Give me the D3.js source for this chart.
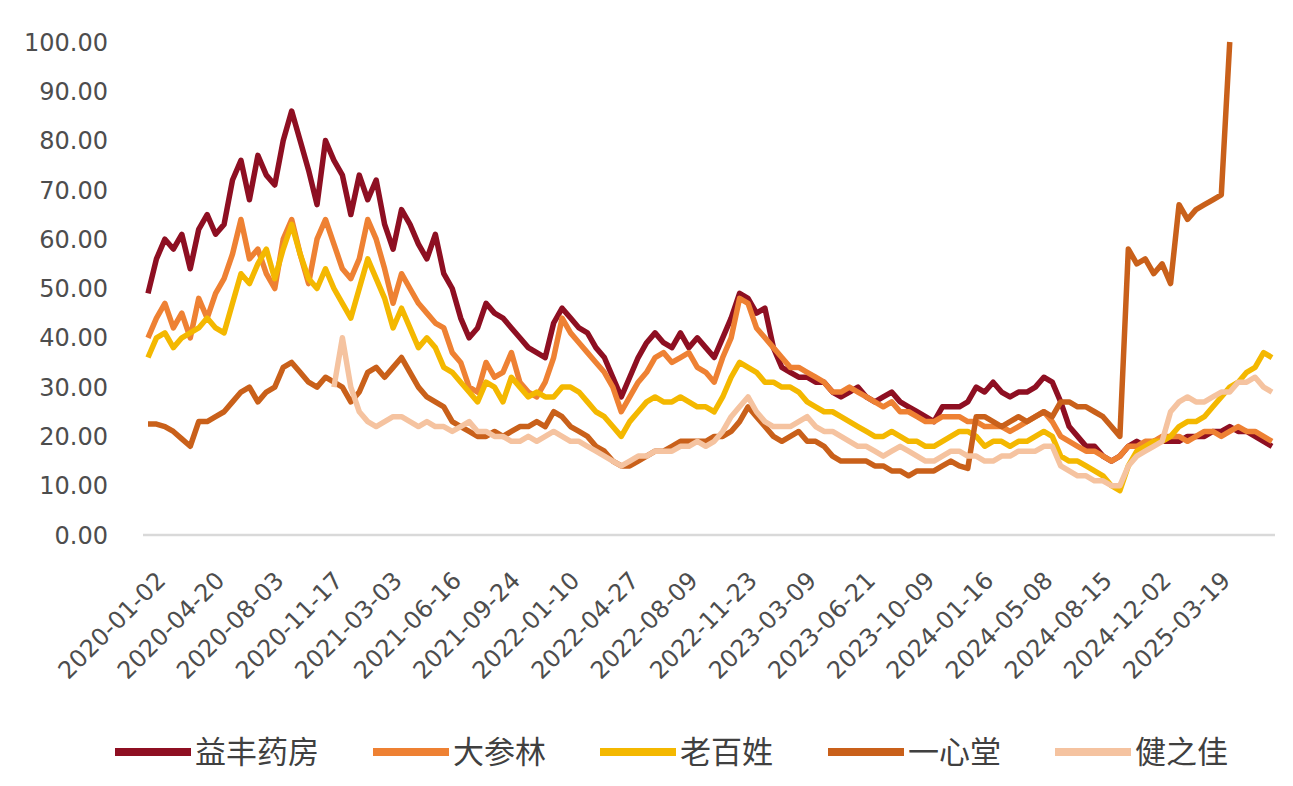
<!DOCTYPE html>
<html>
<head>
<meta charset="utf-8">
<script src="https://cdn.jsdelivr.net/npm/d3@7"></script>
<style>
  body { margin: 0; background: #fff; }
  svg { display: block; }
</style>
</head>
<body>
<svg id="chart" width="1293" height="786"></svg>
<script>
// tick labels, one every 70 trading days
var dateLabels = ["2020-01-02", "2020-04-20", "2020-08-03", "2020-11-17", "2021-03-03", "2021-06-16",
    "2021-09-24", "2022-01-10", "2022-04-27", "2022-08-09", "2022-11-23", "2023-03-09", "2023-06-21",
    "2023-10-09", "2024-01-16", "2024-05-08", "2024-08-15", "2024-12-02", "2025-03-19"];
var labelStep = 70;   // trading days between labels
var sampleStep = 10;  // trading days between samples below

var names = ["益丰药房", "大参林", "老百姓", "一心堂", "健之佳"];
var colors = ["#8E0F22", "#EE8133", "#F4B800", "#C9601A", "#F5C3A0"];

var yifeng = [49,56,60,58,61,54,62,65,61,63,
    72,76,68,77,73,71,80,86,80,74,
    67,80,76,73,65,73,68,72,63,58,
    66,63,59,56,61,53,50,44,40,42,
    47,45,44,42,40,38,37,36,43,46,
    44,42,41,38,36,32,28,32,36,39,
    41,39,38,41,38,40,38,36,40,44,
    49,48,45,46,38,34,33,32,32,31,
    31,29,28,29,30,28,27,28,29,27,
    26,25,24,23,26,26,26,27,30,29,
    31,29,28,29,29,30,32,31,27,22,
    20,18,18,16,15,16,18,19,18,19,
    19,19,19,20,20,20,21,21,22,21,
    21,20,19,18];

var dacanlin = [40,44,47,42,45,40,48,44,49,52,
    57,64,56,58,53,50,60,64,57,51,
    60,64,59,54,52,56,64,60,54,47,
    53,50,47,45,43,42,37,35,30,29,
    35,32,33,37,31,29,28,31,36,44,
    41,39,37,35,33,30,25,28,31,33,
    36,37,35,36,37,34,33,31,36,40,
    48,47,42,40,38,36,34,34,33,32,
    31,29,29,30,29,28,27,26,27,25,
    25,24,23,23,24,24,24,23,23,22,
    22,22,21,22,23,24,25,23,20,19,
    18,17,17,16,15,16,18,18,19,19,
    20,20,20,19,20,21,21,20,21,22,
    21,21,20,19];

var laobaixing = [36,40,41,38,40,41,42,44,42,41,
    47,53,51,55,58,52,58,63,57,52,
    50,54,50,47,44,50,56,52,48,42,
    46,42,38,40,38,34,33,31,29,27,
    31,30,27,32,30,28,29,28,28,30,
    30,29,27,25,24,22,20,23,25,27,
    28,27,27,28,27,26,26,25,28,32,
    35,34,33,31,31,30,30,29,27,26,
    25,25,24,23,22,21,20,20,21,20,
    19,19,18,18,19,20,21,21,20,18,
    19,19,18,19,19,20,21,20,16,15,
    15,14,13,12,10,9,14,17,18,19,
    19,20,22,23,23,24,26,28,30,31,
    33,34,37,36];

var yixintang = [22.5,22.5,22,21,19.5,18,23,23,24,25,
    27,29,30,27,29,30,34,35,33,31,
    30,32,31,30,27,29,33,34,32,34,
    36,33,30,28,27,26,23,22,21,20,
    20,21,20,21,22,22,23,22,25,24,
    22,21,20,18,17,15,14,14,15,16,
    17,17,18,19,19,19,19,20,20,21,
    23,26,24,22,20,19,20,21,19,19,
    18,16,15,15,15,15,14,14,13,13,
    12,13,13,13,14,15,14,13.5,24,24,
    23,22,23,24,23,24,25,24,27,27,
    26,26,25,24,22,20,58,55,56,53,
    55,51,67,64,66,67,68,69,100,null,
    null,null,null,null];

var jianzhijia = [null,null,null,null,null,null,null,null,null,null,
    null,null,null,null,null,null,null,null,null,null,
    null,null,30,40,30,25,23,22,23,24,
    24,23,22,23,22,22,21,22,23,21,
    21,20,20,19,19,20,19,20,21,20,
    19,19,18,17,16,15,14,15,16,16,
    17,17,17,18,18,19,18,19,21,24,
    26,28,25,23,22,22,22,23,24,22,
    21,21,20,19,18,18,17,16,17,18,
    17,16,15,15,16,17,17,16,16,15,
    15,16,16,17,17,17,18,18,14,13,
    12,12,11,11,10,10,14,16,17,18,
    19,25,27,28,27,27,28,29,29,31,
    31,32,30,29];

var seriesValues = [yifeng, dacanlin, laobaixing, yixintang, jianzhijia];
var yTicks = [0, 10, 20, 30, 40, 50, 60, 70, 80, 90, 100];

var svg = d3.select("#chart");
var nSamples = yifeng.length;

var x = d3.scaleLinear()
    .domain([0, (nSamples - 1) * sampleStep])
    .range([148, 1272]);
var y = d3.scaleLinear()
    .domain([0, 100])
    .range([535, 42]);

// y labels (no axis line)
svg.append("g")
    .selectAll("text")
    .data(yTicks).enter()
    .append("text")
    .attr("x", 108)
    .attr("y", function (d) { return y(d); })
    .attr("dy", "0.36em")
    .attr("text-anchor", "end")
    .style("font-family", "'DejaVu Sans', Verdana, sans-serif")
    .style("font-size", "24px")
    .style("fill", "#4D4D4D")
    .text(function (d) { return d3.format(".2f")(d); });

// category axis line
svg.append("line")
    .attr("x1", 143).attr("x2", 1275)
    .attr("y1", y(0)).attr("y2", y(0))
    .style("stroke", "#D9D9D9")
    .style("stroke-width", 2.5);

// rotated date labels
svg.append("g")
    .selectAll("text")
    .data(dateLabels).enter()
    .append("text")
    .attr("transform", function (d, i) {
        return "translate(" + (x(i * labelStep) + 13) + ",576) rotate(-45)";
    })
    .attr("dy", "0.35em")
    .attr("text-anchor", "end")
    .style("font-family", "'DejaVu Sans', Verdana, sans-serif")
    .style("font-size", "24px")
    .style("fill", "#4D4D4D")
    .text(function (d) { return d; });

// the lines
var line = d3.line()
    .defined(function (d) { return d != null; })
    .x(function (d, i) { return x(i * sampleStep); })
    .y(function (d) { return y(d); });

svg.append("g")
    .selectAll("path")
    .data(seriesValues).enter()
    .append("path")
    .attr("d", line)
    .style("fill", "none")
    .style("stroke", function (d, i) { return colors[i]; })
    .style("stroke-width", 5.5)
    .style("stroke-linejoin", "round");

// legend
var legendX = [115, 373, 600, 828, 1055];
var legend = svg.append("g")
    .selectAll("g")
    .data(names).enter()
    .append("g")
    .attr("transform", function (d, i) { return "translate(" + legendX[i] + ",752)"; });

legend.append("line")
    .attr("x1", 0).attr("x2", 76)
    .style("stroke", function (d, i) { return colors[i]; })
    .style("stroke-width", 8);

legend.append("text")
    .attr("x", 80)
    .attr("dy", "0.36em")
    .style("font-family", "'Noto Sans CJK SC', sans-serif")
    .style("font-size", "31px")
    .style("fill", "#404040")
    .text(function (d) { return d; });
</script>
</body>
</html>
